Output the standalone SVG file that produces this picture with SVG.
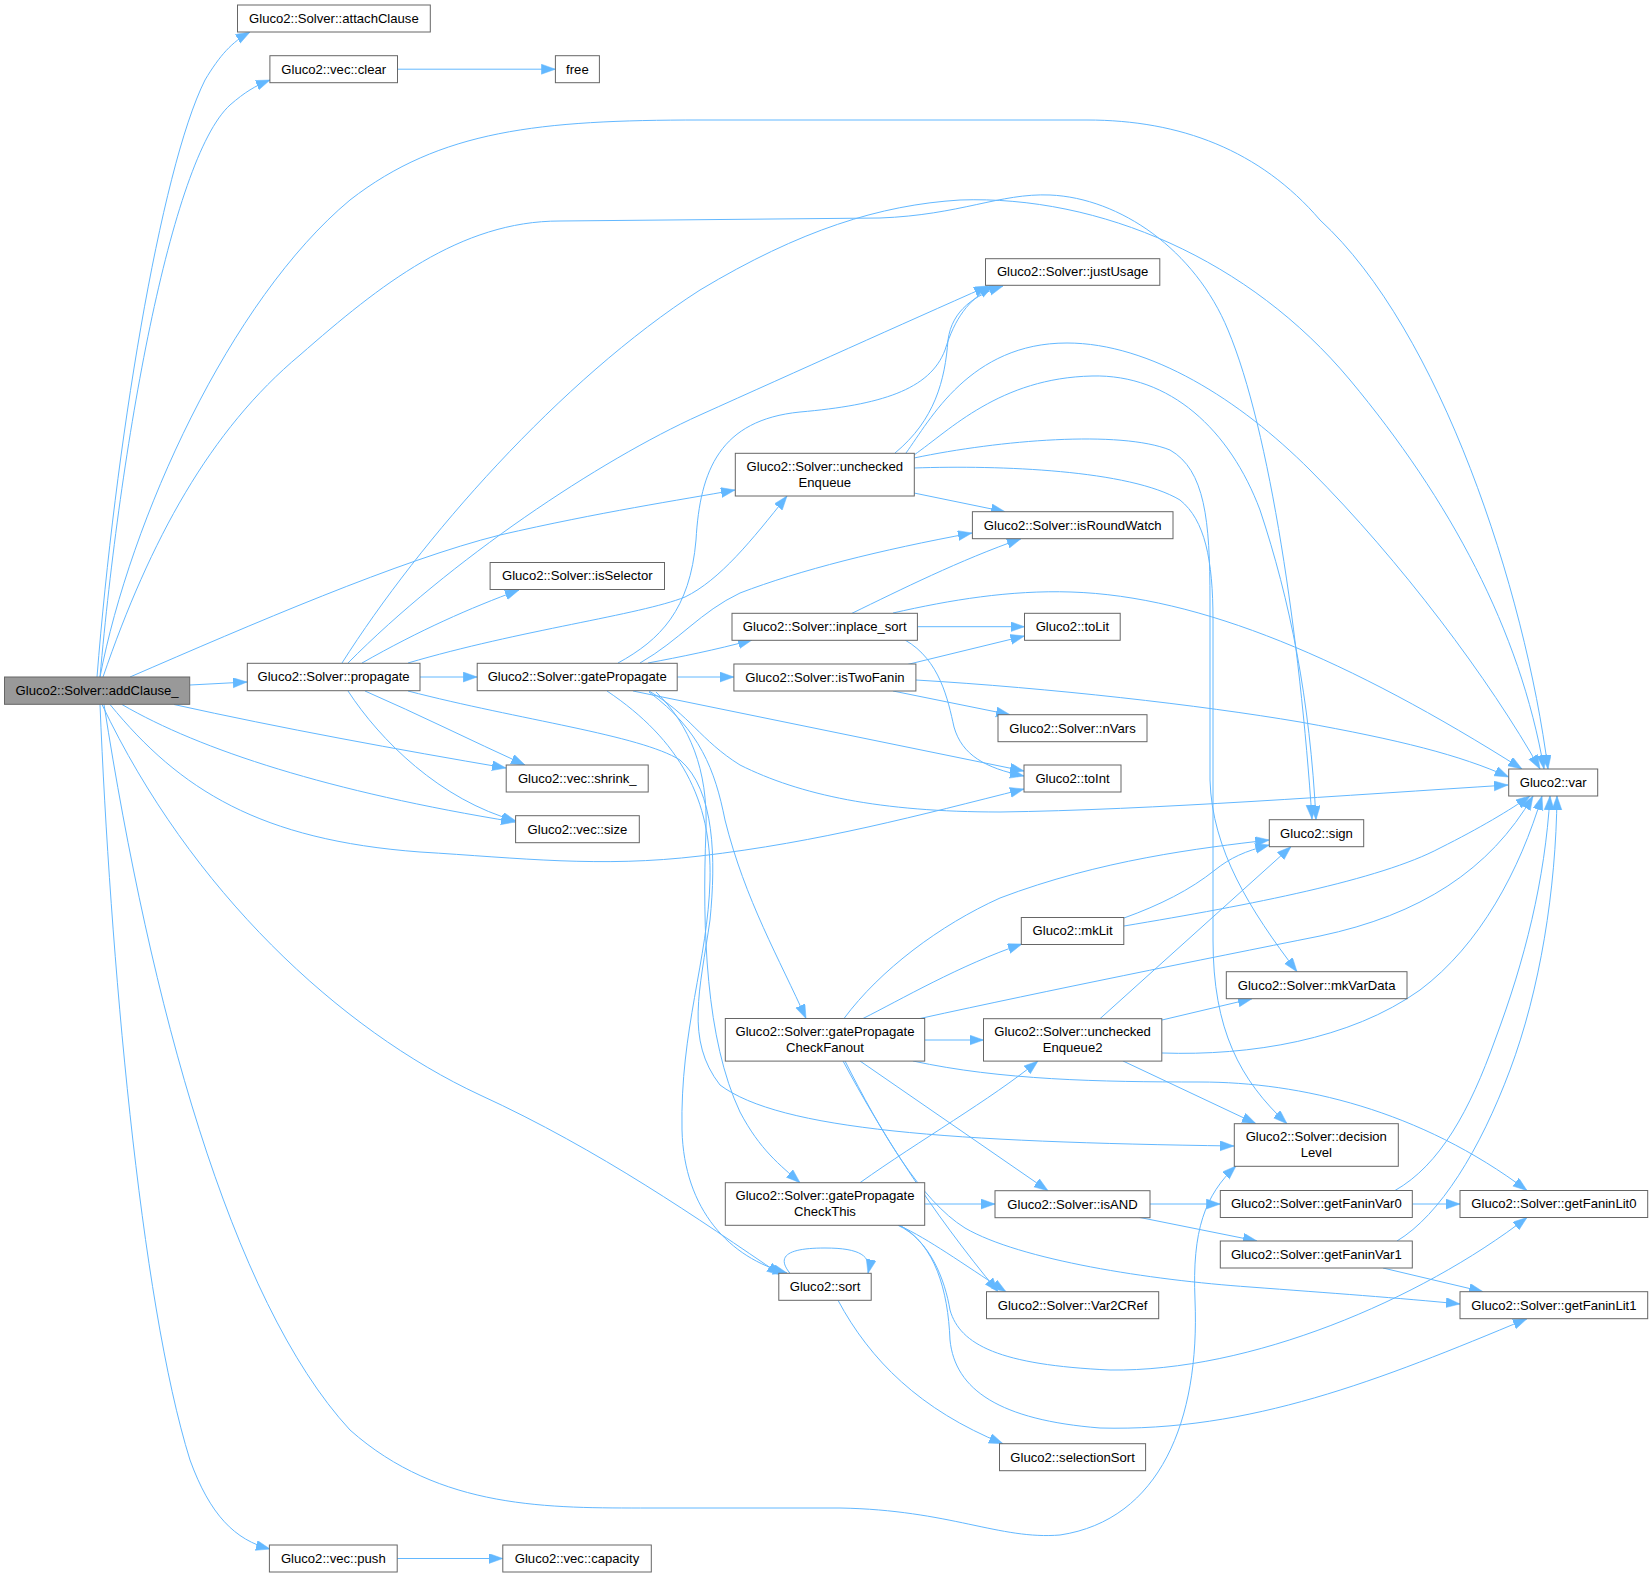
<svg xmlns="http://www.w3.org/2000/svg" width="1652" height="1577" viewBox="0 0 1652 1577">
<defs>
<style>
.n rect{fill:#ffffff;stroke:#666666;stroke-width:1}
.root rect{fill:#999999;stroke:#666666;stroke-width:1}
.n text,.root text{font-family:"Liberation Sans",Arial,sans-serif;font-size:13.1px;text-anchor:middle;fill:#000}
#edges path{fill:none;stroke:#63b8ff;stroke-width:1;marker-end:url(#ah)}
</style>
<marker id="ah" markerUnits="userSpaceOnUse" markerWidth="15" markerHeight="11" refX="14" refY="5" orient="auto">
<path d="M0,0 L14,5 L0,10 z" fill="#63b8ff" stroke="#63b8ff" stroke-width="0.5"/>
</marker>
</defs>
<rect width="1652" height="1577" fill="#ffffff"/>
<g id="edges">
<path d="M97,677 C115,450 160,170 205,80 C220,55 232,42 250,32"/>
<path d="M100,677 C120,450 170,160 230,105 C245,92 255,86 270,80"/>
<path d="M100,677 C130,520 230,300 350,200 C440,130 540,120 700,120 L1087,120 C1180,120 1260,150 1320,220 C1440,330 1525,590 1548,769"/>
<path d="M103,677 C150,540 210,430 300,355 C380,285 460,221 560,221 L880,218 C960,215 1000,193 1050,195 C1120,198 1195,250 1228,330 C1270,430 1300,640 1312,819"/>
<path d="M130,677 C250,625 400,560 500,535 C600,512 680,500 735,490"/>
<path d="M190,685 L247,682"/>
<path d="M174,704.5 C280,728 400,750 506,768"/>
<path d="M122,704.5 C200,750 330,792 515,822"/>
<path d="M110,704.5 C180,790 260,840 420,852 C520,858 600,868 700,856 C820,842 920,815 1024,789"/>
<path d="M102,704.5 C190,890 340,1030 480,1095 C600,1150 700,1220 781,1275"/>
<path d="M104,704.5 C150,1000 230,1300 350,1430 C440,1510 550,1508 650,1508 L840,1508 C950,1510 1000,1540 1060,1535 C1160,1520 1200,1420 1195,1300 C1192,1230 1205,1195 1236,1166"/>
<path d="M100,704.5 C110,950 140,1300 190,1460 C210,1515 235,1540 270,1549"/>
<path d="M397.5,69.2 L555.4,69.2"/>
<path d="M397.2,1558.5 L502.8,1558.5"/>
<path d="M420,677 L477.2,677"/>
<path d="M342,663 C420,540 560,380 700,290 C800,230 880,205 960,200 C1100,195 1250,260 1350,380 C1450,500 1520,630 1544,769"/>
<path d="M348,663 C450,560 600,460 700,415 C800,370 900,325 988,286"/>
<path d="M362,663 C420,630 470,608 519,590"/>
<path d="M408,663 C520,630 640,615 685,597 C720,580 752,540 787,496"/>
<path d="M365,691 C420,715 470,740 525,765"/>
<path d="M348,691 C380,740 440,800 516,821"/>
<path d="M408,691 C520,720 640,735 680,760 C715,790 716,860 710,920 C700,990 685,1040 720,1085 C780,1130 950,1142 1234,1146"/>
<path d="M677.2,677 L733.9,677"/>
<path d="M618,663 C660,640 690,610 696,540 C700,470 720,420 800,412 C880,405 930,390 945,350 C955,318 968,300 993,286"/>
<path d="M640,663 C680,640 700,612 740,593 C800,570 880,550 972,533"/>
<path d="M648,663 C680,657 715,650 752,640"/>
<path d="M633,691 L1024,771"/>
<path d="M649,691 C690,715 700,740 740,765 C800,795 880,812 1000,812 C1150,810 1350,795 1508,785"/>
<path d="M649,692 C700,730 715,770 725,820 C745,900 780,960 806,1018.5"/>
<path d="M656,692 C690,725 708,770 706,830 C702,930 706,1040 740,1112 C760,1150 780,1165 800,1182.7"/>
<path d="M607,691 C680,740 712,800 710,880 C708,960 680,1030 682,1130 C684,1210 730,1258 787,1273"/>
<path d="M895,453 C935,420 945,380 948,340 C952,310 975,295 1003,286"/>
<path d="M906,453 C930,420 970,343 1067,343 C1150,343 1240,400 1310,470 C1400,560 1490,680 1540,769"/>
<path d="M914,455 C950,430 1000,378 1092,376 C1170,374 1230,430 1260,510 C1290,600 1310,700 1316,819.7"/>
<path d="M914,458 C1000,440 1120,430 1170,450 C1205,470 1210,520 1210,600 L1210,780 C1212,850 1250,910 1297,971.7"/>
<path d="M914,468 C1000,465 1130,470 1180,500 C1205,520 1213,560 1213,620 L1213,940 C1213,1030 1240,1080 1287,1123.7"/>
<path d="M914,493 L1005,511.7"/>
<path d="M917.4,626.7 L1024.5,626.7"/>
<path d="M852,613.3 C900,590 960,560 1021,538.7"/>
<path d="M893,613 C950,600 1010,590 1071,592 C1200,596 1350,660 1522,769"/>
<path d="M905,640 C940,660 948,700 954,727 C962,755 985,768 1024,776"/>
<path d="M893,668 L1024.5,636"/>
<path d="M893,691 L1010,714.7"/>
<path d="M916,680 C1050,688 1200,705 1300,722 C1400,740 1460,755 1508.7,777"/>
<path d="M844,1018.5 C880,970 940,925 1000,898 C1100,860 1200,848 1269.3,840"/>
<path d="M863,1018.5 C900,1000 960,965 1022,944"/>
<path d="M920,1018.5 C1050,990 1200,960 1320,936 C1420,915 1490,870 1533,796"/>
<path d="M924.7,1040 L983.5,1040"/>
<path d="M913,1061 C1000,1080 1100,1082 1200,1082 C1300,1082 1420,1110 1527,1190.5"/>
<path d="M860,1061 L1048,1190.7"/>
<path d="M843,1061 C880,1130 930,1210 998,1291.7"/>
<path d="M845,1061 C880,1130 920,1200 965,1228 C1020,1260 1150,1280 1250,1287 C1330,1293 1400,1298 1460,1304"/>
<path d="M860,1182.7 C920,1140 990,1100 1038,1061"/>
<path d="M924.7,1204 L995,1204"/>
<path d="M899,1225.3 C930,1240 960,1262 1006,1291.7"/>
<path d="M898,1225.3 C930,1240 945,1280 950,1310 C960,1345 1000,1365 1110,1370 C1250,1372 1420,1300 1527,1217.5"/>
<path d="M900,1225.3 C935,1245 948,1290 950,1340 C955,1390 1000,1420 1100,1428 C1250,1432 1380,1380 1527,1318.7"/>
<path d="M1100,1018.7 L1291,846.7"/>
<path d="M1162,1020 L1252,998.7"/>
<path d="M1162,1053 C1250,1056 1350,1040 1420,990 C1480,945 1520,870 1542,796"/>
<path d="M1123,1061 L1256,1123.7"/>
<path d="M1124,918 C1160,905 1190,890 1215,870 C1230,858 1245,851 1269.3,845"/>
<path d="M1124,926 C1250,905 1380,880 1440,848 C1480,828 1510,810 1530,796"/>
<path d="M1150,1204 L1220.3,1204"/>
<path d="M1139,1217.3 L1257,1241"/>
<path d="M1412.3,1204 L1460,1204"/>
<path d="M1395,1190.5 C1440,1165 1470,1110 1495,1040 C1525,960 1545,880 1550,796"/>
<path d="M1397,1241 C1440,1215 1480,1150 1510,1070 C1540,990 1556,890 1557,796"/>
<path d="M1383,1268 L1483,1291.7"/>
<path d="M790,1273.3 C775,1255 790,1248 825,1248 C860,1248 872,1256 868,1273.3"/>
<path d="M838,1300.3 C870,1360 920,1410 1003,1443.7"/>
</g>
<g id="node-addClause" class="root"><rect x="4.5" y="677" width="185.2" height="27.3"/><text x="97.1" y="695">Gluco2::Solver::addClause_</text></g>
<g id="node-attachClause" class="n"><rect x="237.5" y="5" width="192.8" height="27"/><text x="333.9" y="23">Gluco2::Solver::attachClause</text></g>
<g id="node-clear" class="n"><rect x="269.9" y="55.7" width="127.6" height="27"/><text x="333.7" y="73.6">Gluco2::vec::clear</text></g>
<g id="node-free" class="n"><rect x="555.4" y="55.7" width="44" height="27"/><text x="577.4" y="73.6">free</text></g>
<g id="node-propagate" class="n"><rect x="247.3" y="663.3" width="172.7" height="27.4"/><text x="333.6" y="681.3">Gluco2::Solver::propagate</text></g>
<g id="node-push" class="n"><rect x="269.4" y="1545" width="127.8" height="27"/><text x="333.3" y="1563">Gluco2::vec::push</text></g>
<g id="node-gatePropagate" class="n"><rect x="477.2" y="663.3" width="200" height="27.4"/><text x="577.2" y="681.3">Gluco2::Solver::gatePropagate</text></g>
<g id="node-isSelector" class="n"><rect x="490.1" y="562.5" width="174.4" height="27"/><text x="577.3" y="580.4">Gluco2::Solver::isSelector</text></g>
<g id="node-shrink" class="n"><rect x="506.2" y="765" width="142" height="27"/><text x="577.2" y="782.9">Gluco2::vec::shrink_</text></g>
<g id="node-size" class="n"><rect x="515.6" y="815.7" width="123.7" height="27"/><text x="577.4" y="833.6">Gluco2::vec::size</text></g>
<g id="node-capacity" class="n"><rect x="502.8" y="1545" width="148.5" height="27"/><text x="577" y="1563">Gluco2::vec::capacity</text></g>
<g id="node-uncheckedEnqueue" class="n"><rect x="735.3" y="453.3" width="179" height="42.7"/><text x="824.8" y="471">Gluco2::Solver::unchecked</text><text x="824.8" y="487">Enqueue</text></g>
<g id="node-inplace_sort" class="n"><rect x="732" y="613.3" width="185.4" height="27"/><text x="824.7" y="631.2">Gluco2::Solver::inplace_sort</text></g>
<g id="node-isTwoFanin" class="n"><rect x="733.9" y="664" width="182" height="27"/><text x="824.9" y="681.9">Gluco2::Solver::isTwoFanin</text></g>
<g id="node-checkFanout" class="n"><rect x="725.3" y="1018.5" width="199.4" height="42.6"/><text x="825" y="1036.2">Gluco2::Solver::gatePropagate</text><text x="825" y="1052.2">CheckFanout</text></g>
<g id="node-checkThis" class="n"><rect x="725.3" y="1182.7" width="199.4" height="42.6"/><text x="825" y="1200.4">Gluco2::Solver::gatePropagate</text><text x="825" y="1216.4">CheckThis</text></g>
<g id="node-sort" class="n"><rect x="778.8" y="1273.3" width="92.4" height="27"/><text x="825" y="1291.2">Gluco2::sort</text></g>
<g id="node-justUsage" class="n"><rect x="985.5" y="258.7" width="174.3" height="26.6"/><text x="1072.6" y="276.4">Gluco2::Solver::justUsage</text></g>
<g id="node-isRoundWatch" class="n"><rect x="972.4" y="511.7" width="200.6" height="27"/><text x="1072.7" y="529.6">Gluco2::Solver::isRoundWatch</text></g>
<g id="node-toLit" class="n"><rect x="1024.5" y="613.3" width="95.7" height="27"/><text x="1072.4" y="631.2">Gluco2::toLit</text></g>
<g id="node-nVars" class="n"><rect x="998" y="714.7" width="149" height="27"/><text x="1072.5" y="732.6">Gluco2::Solver::nVars</text></g>
<g id="node-toInt" class="n"><rect x="1024" y="765" width="97" height="27"/><text x="1072.5" y="782.9">Gluco2::toInt</text></g>
<g id="node-mkLit" class="n"><rect x="1021.3" y="917.5" width="102.5" height="27"/><text x="1072.6" y="935.4">Gluco2::mkLit</text></g>
<g id="node-uncheckedEnqueue2" class="n"><rect x="983.5" y="1018.7" width="178.3" height="42.4"/><text x="1072.6" y="1036.4">Gluco2::Solver::unchecked</text><text x="1072.6" y="1052.4">Enqueue2</text></g>
<g id="node-isAND" class="n"><rect x="995" y="1190.7" width="155" height="27"/><text x="1072.5" y="1208.6">Gluco2::Solver::isAND</text></g>
<g id="node-Var2CRef" class="n"><rect x="986.5" y="1291.7" width="172.2" height="27"/><text x="1072.6" y="1309.6">Gluco2::Solver::Var2CRef</text></g>
<g id="node-selectionSort" class="n"><rect x="999.5" y="1443.7" width="146.1" height="27"/><text x="1072.6" y="1461.6">Gluco2::selectionSort</text></g>
<g id="node-sign" class="n"><rect x="1269.3" y="819.7" width="94.4" height="27"/><text x="1316.5" y="837.6">Gluco2::sign</text></g>
<g id="node-mkVarData" class="n"><rect x="1226.3" y="971.7" width="180.7" height="27"/><text x="1316.6" y="989.6">Gluco2::Solver::mkVarData</text></g>
<g id="node-decisionLevel" class="n"><rect x="1234.3" y="1123.7" width="164" height="42.6"/><text x="1316.3" y="1141.4">Gluco2::Solver::decision</text><text x="1316.3" y="1157.4">Level</text></g>
<g id="node-getFaninVar0" class="n"><rect x="1220.3" y="1190.5" width="192" height="27"/><text x="1316.3" y="1208.4">Gluco2::Solver::getFaninVar0</text></g>
<g id="node-getFaninVar1" class="n"><rect x="1220.3" y="1241" width="192" height="27"/><text x="1316.3" y="1258.9">Gluco2::Solver::getFaninVar1</text></g>
<g id="node-var" class="n"><rect x="1508.7" y="769" width="89" height="27"/><text x="1553.2" y="786.9">Gluco2::var</text></g>
<g id="node-getFaninLit0" class="n"><rect x="1460" y="1190.5" width="187.7" height="27"/><text x="1553.9" y="1208.4">Gluco2::Solver::getFaninLit0</text></g>
<g id="node-getFaninLit1" class="n"><rect x="1460" y="1291.7" width="187.7" height="27"/><text x="1553.9" y="1309.6">Gluco2::Solver::getFaninLit1</text></g>
</svg>
